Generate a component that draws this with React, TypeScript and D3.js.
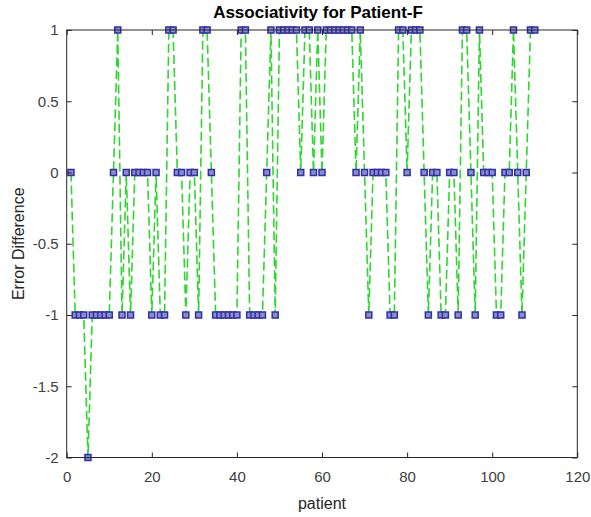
import React, { useEffect, useRef } from "react";
import * as d3 from "d3";

// error difference per patient (patient number = position in list, starting at 1)
const errorDiff = [
  0, -1, -1, -1, -2, -1, -1, -1, -1, -1,
  0, 1, -1, 0, -1, 0, 0, 0, 0, -1,
  0, -1, -1, 1, 1, 0, 0, -1, 0, 0,
  -1, 1, 1, 0, -1, -1, -1, -1, -1, -1,
  1, 1, -1, -1, -1, -1, 0, 1, -1, 1,
  1, 1, 1, 1, 0, 1, 1, 0, 1, 0,
  1, 1, 1, 1, 1, 1, 1, 0, 1, 0,
  -1, 0, 0, 0, 0, -1, -1, 1, 1, 0,
  1, 1, 1, 0, -1, 0, 0, -1, -1, 0,
  0, -1, 1, 1, 0, -1, 1, 0, 0, 0,
  -1, -1, 0, 0, 1, 0, -1, 0, 1, 1,
];

const xTicks = [0, 20, 40, 60, 80, 100, 120];
const yTicks = [-2, -1.5, -1, -0.5, 0, 0.5, 1];

const W = 591;
const H = 517;
const FONT = "'Liberation Sans', Arial, Helvetica, sans-serif";

export default function App() {
  const ref = useRef<SVGSVGElement>(null);

  useEffect(() => {
    const svg = d3.select(ref.current);
    svg.selectAll("*").remove();

    const margin = { top: 30, right: 13.7, bottom: 59.5, left: 66.7 };
    const x = d3.scaleLinear().domain([0, 120]).range([margin.left, W - margin.right]);
    const y = d3.scaleLinear().domain([-2, 1]).range([H - margin.bottom, margin.top]);

    svg.append("rect").attr("width", W).attr("height", H).attr("fill", "#fff");

    const pts = errorDiff.map((v, i) => ({ p: i + 1, v }));

    // dashed green line
    const line = d3
      .line<{ p: number; v: number }>()
      .x((d) => x(d.p))
      .y((d) => y(d.v));
    svg
      .append("path")
      .datum(pts)
      .attr("d", line)
      .attr("fill", "none")
      .attr("stroke", "#2ed62e")
      .attr("stroke-width", 1.6)
      .attr("stroke-dasharray", "9,4");

    // square markers
    const s = 6;
    svg
      .append("g")
      .selectAll("rect")
      .data(pts)
      .join("rect")
      .attr("x", (d) => x(d.p) - s / 2)
      .attr("y", (d) => y(d.v) - s / 2)
      .attr("width", s)
      .attr("height", s)
      .attr("fill", "#8c8cc8")
      .attr("stroke", "#2f2fa8")
      .attr("stroke-width", 1.5);

    const axisColor = "#262626";
    const fmt = (d: any) => String(d); // plain hyphen minus like matlab
    const styleAxis = (g: any) => {
      g.select(".domain").remove();
      g.selectAll("line").attr("stroke", axisColor);
      g.selectAll("text")
        .attr("fill", "#404040")
        .style("font-size", "15px")
        .style("font-family", FONT);
    };

    // bottom axis with inward ticks
    svg
      .append("g")
      .attr("transform", `translate(0,${y(-2)})`)
      .call(d3.axisBottom(x).tickValues(xTicks).tickFormat(fmt).tickSizeInner(-5).tickSizeOuter(0).tickPadding(14))
      .call(styleAxis);

    // left axis
    svg
      .append("g")
      .attr("transform", `translate(${x(0)},0)`)
      .call(d3.axisLeft(y).tickValues(yTicks).tickFormat(fmt).tickSizeInner(-5).tickSizeOuter(0).tickPadding(8))
      .call(styleAxis);

    // top and right ticks (box on)
    svg
      .append("g")
      .attr("transform", `translate(0,${y(1)})`)
      .call(d3.axisTop(x).tickValues(xTicks).tickSizeInner(-5).tickSizeOuter(0).tickFormat(() => ""))
      .call(styleAxis);
    svg
      .append("g")
      .attr("transform", `translate(${x(120)},0)`)
      .call(d3.axisRight(y).tickValues(yTicks).tickSizeInner(-5).tickSizeOuter(0).tickFormat(() => ""))
      .call(styleAxis);

    // frame
    svg
      .append("rect")
      .attr("x", x(0))
      .attr("y", y(1))
      .attr("width", x(120) - x(0))
      .attr("height", y(-2) - y(1))
      .attr("fill", "none")
      .attr("stroke", axisColor)
      .attr("stroke-width", 1);

    // title
    svg
      .append("text")
      .attr("x", (x(0) + x(120)) / 2 - 4)
      .attr("y", 18)
      .attr("text-anchor", "middle")
      .style("font-family", FONT)
      .style("font-size", "17px")
      .style("font-weight", "bold")
      .attr("fill", "#000")
      .text("Associativity for Patient-F");

    // x label
    svg
      .append("text")
      .attr("x", (x(0) + x(120)) / 2)
      .attr("y", 509)
      .attr("text-anchor", "middle")
      .style("font-family", FONT)
      .style("font-size", "16px")
      .attr("fill", "#262626")
      .text("patient");

    // y label
    svg
      .append("text")
      .attr("transform", `translate(24,${(y(1) + y(-2)) / 2}) rotate(-90)`)
      .attr("text-anchor", "middle")
      .style("font-family", FONT)
      .style("font-size", "16px")
      .attr("fill", "#262626")
      .text("Error Difference");
  }, []);

  return (
    <div style={{ position: "absolute", left: 0, top: 0 }}>
      <svg ref={ref} width={W} height={H} style={{ display: "block" }} />
    </div>
  );
}
